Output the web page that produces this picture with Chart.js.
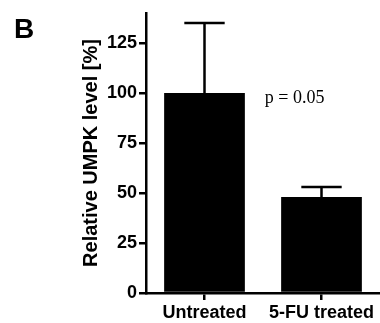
<!DOCTYPE html>
<html>
<head>
<meta charset="utf-8">
<script src="https://cdn.jsdelivr.net/npm/chart.js@4"></script>
<style>
  html, body { margin: 0; padding: 0; background: #fff; }
  canvas { display: block; }
</style>
</head>
<body>
<canvas id="umpkChart" width="380" height="323"></canvas>
<script>
const categories = ['Untreated', '5-FU treated'];
const meanLevel = [100, 48];
const errorUp = [35, 5];
const yTicks = [0, 25, 50, 75, 100, 125];
const panelLabel = 'B';
const pLabel = 'p = 0.05';

const FONT = '"Liberation Sans", Arial, sans-serif';

// upper error bars, cap half the bar width
const errorBars = {
  id: 'errorBars',
  afterDatasetsDraw(chart) {
    const ctx = chart.ctx;
    const meta = chart.getDatasetMeta(0);
    const y = chart.scales.y;
    ctx.save();
    ctx.strokeStyle = '#000';
    ctx.lineWidth = 2.5;
    meta.data.forEach((bar, i) => {
      const top = y.getPixelForValue(meanLevel[i] + errorUp[i]);
      const half = bar.width / 4;
      ctx.beginPath();
      ctx.moveTo(bar.x, bar.y);
      ctx.lineTo(bar.x, top);
      ctx.moveTo(bar.x - half, top);
      ctx.lineTo(bar.x + half, top);
      ctx.stroke();
    });
    ctx.restore();
  }
};

// panel letter and p-value note
const annotations = {
  id: 'annotations',
  afterDraw(chart) {
    const ctx = chart.ctx;
    const y = chart.scales.y;
    ctx.save();
    ctx.fillStyle = '#000';
    ctx.textBaseline = 'alphabetic';
    ctx.font = 'bold 28px ' + FONT;
    ctx.fillText(panelLabel, 14, 38);
    const bar = chart.getDatasetMeta(0).data[0];
    ctx.font = '18px "Liberation Serif", "Times New Roman", serif';
    ctx.fillText(pLabel, bar.x + bar.width / 2 + 20, y.getPixelForValue(95));
    ctx.restore();
  }
};

new Chart(document.getElementById('umpkChart').getContext('2d'), {
  type: 'bar',
  data: {
    labels: categories,
    datasets: [{
      data: meanLevel,
      backgroundColor: '#000',
      borderWidth: 0,
      categoryPercentage: 1,
      barPercentage: 0.69
    }]
  },
  options: {
    responsive: false,
    animation: false,
    layout: { padding: { left: 79, top: 13, right: 0, bottom: 0 } },
    plugins: {
      legend: { display: false },
      tooltip: { enabled: false }
    },
    scales: {
      x: {
        afterFit: s => { s.height = 30; },
        grid: { offset: false, drawOnChartArea: false, tickLength: 7, color: '#000', lineWidth: 2.5 },
        border: { color: '#000', width: 2.5 },
        ticks: { color: '#000', padding: 2, font: { family: FONT, size: 18, weight: 'bold' } }
      },
      y: {
        min: 0,
        max: 140,
        afterBuildTicks: s => { s.ticks = yTicks.map(v => ({ value: v })); },
        afterFit: s => { s.width = 67; },
        grid: { drawOnChartArea: false, tickLength: 7, color: '#000', lineWidth: 2.5 },
        border: { color: '#000', width: 2.5 },
        ticks: { color: '#000', padding: 2, font: { family: FONT, size: 18, weight: 'bold' } },
        title: {
          display: true,
          text: 'Relative UMPK level [%]',
          color: '#000',
          padding: 0,
          font: { family: FONT, size: 20, weight: 'bold' }
        }
      }
    }
  },
  plugins: [errorBars, annotations]
});
</script>
</body>
</html>
